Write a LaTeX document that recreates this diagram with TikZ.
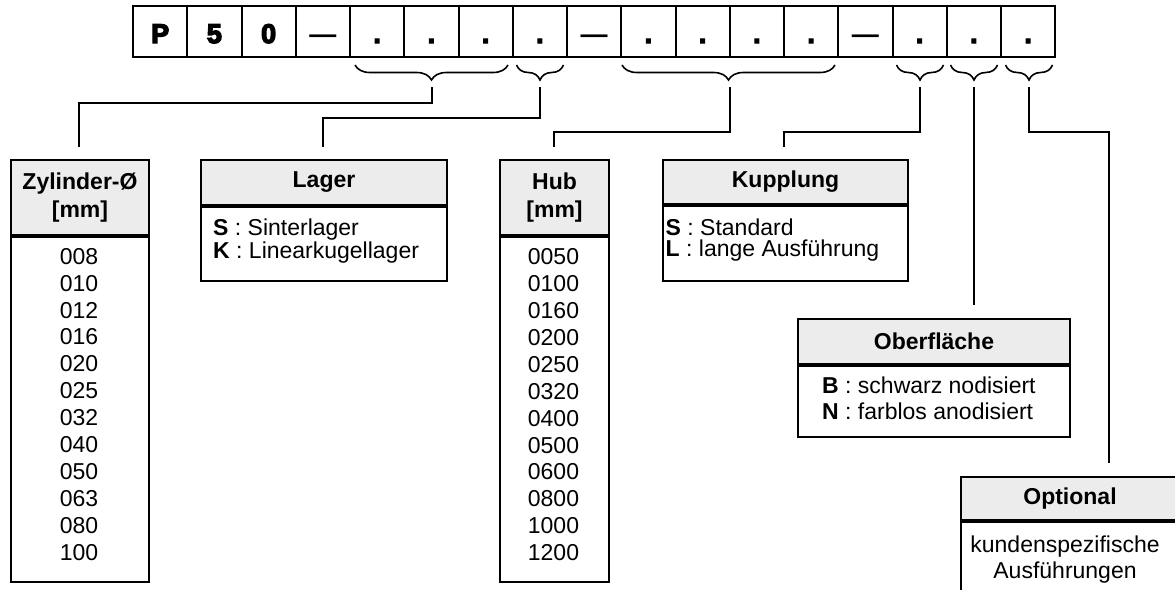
\documentclass[tikz,border=0pt]{standalone}
\usepackage{fontspec}
\setmainfont{Liberation Sans}
\newfontfamily\heavy{Liberation Sans}[BoldFeatures={FakeBold=5}]
\usetikzlibrary{decorations.pathreplacing}
\tikzset{
  every node/.style={font=\fontsize{23}{23}\selectfont, inner sep=0pt},
  cellbox/.style={draw, line width=2pt, minimum width=54.25pt, minimum height=51.6pt,
    text height=23pt, text depth=0pt, font=\fontsize{27}{27}\selectfont\bfseries},
  hdr/.style={draw, line width=2pt, fill=gray!15, anchor=north west,
    font=\fontsize{23}{28}\selectfont\bfseries, align=center},
  bodyb/.style={draw, line width=2pt, anchor=north west},
  listtext/.style={anchor=north, align=center, font=\fontsize{23}{26.9}\selectfont},
  keytext/.style={anchor=north west, align=left, font=\fontsize{23}{21}\selectfont},
  conn/.style={line width=2pt},
  bracep/.style={decorate, decoration={brace, mirror, amplitude=15pt}, line width=1.6pt},
}
\begin{document}
\begin{tikzpicture}[x=1pt, y=-1pt]
\useasboundingbox (0,0) rectangle (1175,589);
\clip (0,0) rectangle (1175,589);

% code cells
\foreach \t [count=\i from 0] in {{\heavy P},{\heavy 5},{\heavy 0},—,{\heavy .},{\heavy .},{\heavy .},{\heavy .},—,{\heavy .},{\heavy .},{\heavy .},{\heavy .},—,{\heavy .},{\heavy .},{\heavy .}}
  \node[cellbox] (c\i) at ({133+(\i+0.5)*54.25},31.5) {\t};

% braces
\draw[bracep] (355,65) -- (508,65);
\draw[bracep] (516.5,65) -- (563.5,65);
\draw[bracep] (622,65) -- (835,65);
\draw[bracep] (896.5,65) -- (943.5,65);
\draw[bracep] (950.5,65) -- (997.5,65);
\draw[bracep] (1005.5,65) -- (1052.5,65);

% brace tips (connector starts)
\coordinate (t1) at (431.5,87);
\coordinate (t2) at (540,87);
\coordinate (t3) at (729.5,87);
\coordinate (t4) at (920,87);
\coordinate (t5) at (974,87);
\coordinate (t6) at (1029,87);

% connector ends
\coordinate (zylIn) at (79,147);
\coordinate (lagIn) at (323,147);
\coordinate (hubIn) at (554,147);
\coordinate (kupIn) at (784,147);
\coordinate (obIn) at (974,305);
\coordinate (opIn) at (1109,463);

% Zylinder
\node[hdr, minimum width=138, minimum height=75] (zylH) at (10,159) {Zylinder-Ø\\{[mm]}};
\node[bodyb, minimum width=138, minimum height=345] (zylB) at (zylH.south west) {};
\node[listtext] (zylT) at (79,248)
  {008\\010\\012\\016\\020\\025\\032\\040\\050\\063\\080\\100};

% Lager
\node[hdr, minimum width=246, minimum height=45] (lagH) at (200,159) {Lager};
\node[bodyb, minimum width=246, minimum height=74] (lagB) at (lagH.south west) {};
\node[keytext] (lagT) at (213,219)
  {\textbf{S} : Sinterlager\\\textbf{K} : Linearkugellager};

% Hub
\node[hdr, minimum width=109, minimum height=75] (hubH) at (499,159) {Hub\\{[mm]}};
\node[bodyb, minimum width=109, minimum height=345] (hubB) at (hubH.south west) {};
\node[listtext] (hubT) at (553.5,248.5)
  {0050\\0100\\0160\\0200\\0250\\0320\\0400\\0500\\0600\\0800\\1000\\1200};

% Kupplung
\node[hdr, minimum width=245, minimum height=44] (kupH) at (662,159) {Kupplung};
\node[bodyb, minimum width=245, minimum height=75] (kupB) at (kupH.south west) {};
\node[keytext] (kupT) at (665.5,219)
  {\textbf{S} : Standard\\\textbf{L} : lange Ausführung};

% Oberflaeche
\node[hdr, minimum width=272, minimum height=45] (obH) at (797,318) {Oberfläche};
\node[bodyb, minimum width=272, minimum height=71] (obB) at (obH.south west) {};
\node[keytext, font=\fontsize{23}{26}\selectfont] (obT) at (822,377)
  {\textbf{B} : schwarz nodisiert\\\textbf{N} : farblos anodisiert};

% Optional
\node[hdr, minimum width=218, minimum height=43] (opH) at (960,476) {Optional};
\node[bodyb, minimum width=218, minimum height=90] (opB) at (opH.south west) {};
\node[listtext, font=\fontsize{23}{26}\selectfont] (opT) at (1065,536)
  {kundenspezifische\\Ausführungen};

% connectors
\draw[conn] (t1) -- ++(0,15.7) -| (zylIn);
\draw[conn] (t2) -- ++(0,30.7) -| (lagIn);
\draw[conn] (t3) -- ++(0,45.3) -| (hubIn);
\draw[conn] (t4) -- ++(0,45.3) -| (kupIn);
\draw[conn] (t5) -- (obIn);
\draw[conn] (t6) -- ++(0,45.3) -| (opIn);
\end{tikzpicture}
\end{document}
